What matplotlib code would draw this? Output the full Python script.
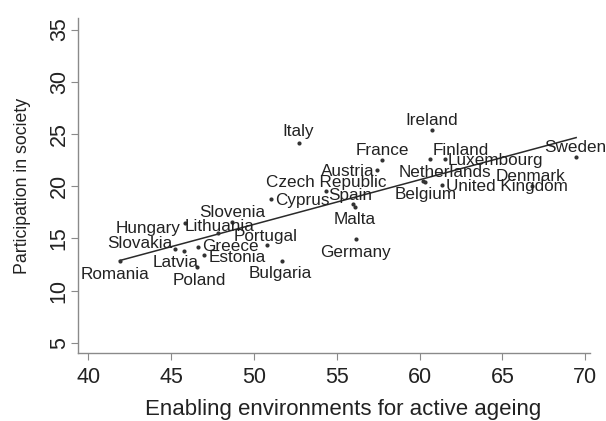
import numpy as np
import matplotlib
matplotlib.use("Agg")
import matplotlib.pyplot as plt

countries = ["Romania", "Slovakia", "Latvia", "Poland", "Hungary", "Lithuania",
             "Slovenia", "Greece", "Estonia", "Portugal", "Bulgaria", "Cyprus",
             "Czech Republic", "Italy", "Spain", "Malta", "Germany", "Austria",
             "France", "Ireland", "Finland", "Luxembourg", "Netherlands",
             "Belgium", "United Kingdom", "Denmark", "Sweden"]
enabling = [41.9, 45.25, 45.8, 46.6, 45.85, 47.85,
            48.7, 46.65, 47.0, 50.8, 51.7, 51.05,
            54.35, 52.75, 56.0, 56.1, 56.15, 57.45,
            57.75, 60.75, 60.65, 61.55, 60.2,
            60.3, 61.35, 66.8, 69.45]
participation = [12.85, 14.0, 13.8, 12.3, 16.5, 15.5,
                 16.6, 14.2, 13.4, 14.4, 12.85, 18.8,
                 19.55, 24.15, 18.3, 18.0, 14.95, 21.55,
                 22.5, 25.4, 22.6, 22.6, 20.5,
                 20.4, 20.1, 20.0, 22.8]

# label placement: (dx, dy) in points relative to the marker, horizontal alignment
label_pos = {
    "Romania": (-3, -10, "center"), "Slovakia": (-2, 4, "right"),
    "Latvia": (-6, -8, "center"), "Poland": (1, -10, "center"),
    "Hungary": (-3, -4, "right"), "Lithuania": (1, 5, "center"),
    "Slovenia": (0, 7, "center"), "Greece": (3, 0, "left"),
    "Estonia": (3, -2, "left"), "Portugal": (-1, 6, "center"),
    "Bulgaria": (-1, -9, "center"), "Cyprus": (3, -1, "left"),
    "Czech Republic": (0, 6, "center"), "Italy": (-1, 8, "center"),
    "Spain": (-2, 6, "center"), "Malta": (0, -9, "center"),
    "Germany": (0, -10, "center"), "Austria": (-2, -1, "right"),
    "France": (0, 7, "center"), "Ireland": (0, 7, "center"),
    "Finland": (2, 6, "left"), "Luxembourg": (2, -1, "left"),
    "Netherlands": (16, 6, "center"), "Belgium": (1, -9, "center"),
    "United Kingdom": (3, -1, "left"), "Denmark": (-1, 7, "center"),
    "Sweden": (-1, 7, "center"),
}

plt.rcParams["font.family"] = ["Liberation Sans", "DejaVu Sans"]
text_color = "#222222"
axis_color = "#8a8a8a"

fig = plt.figure(figsize=(6.06, 4.21), dpi=100)
ax = fig.add_axes([0.129, 0.162, 0.845, 0.795])

ax.scatter(enabling, participation, s=9, color="#333333", zorder=3, linewidths=0)

# linear fit across the observed range
slope, intercept = np.polyfit(enabling, participation, 1)
xs = np.array([min(enabling), max(enabling)])
ax.plot(xs, intercept + slope * xs, color="#2a2a2a", lw=1.1, zorder=2)

for name, x, y in zip(countries, enabling, participation):
    dx, dy, ha = label_pos[name]
    ax.annotate(name, (x, y), xytext=(dx, dy), textcoords="offset points",
                ha=ha, va="center", fontsize=12.3, color=text_color)

ax.set_xlim(39.4, 70.3)
ax.set_ylim(4.05, 36.1)
ax.set_xticks([40, 45, 50, 55, 60, 65, 70])
ax.set_yticks([5, 10, 15, 20, 25, 30, 35])
for lab in ax.get_yticklabels():
    lab.set_rotation(90)
    lab.set_va("center")
ax.tick_params(axis="both", direction="out", length=5, width=0.8,
               color=axis_color, labelcolor=text_color, labelsize=15.5)
ax.tick_params(axis="x", pad=5)
ax.tick_params(axis="y", pad=1)

for side in ["top", "right"]:
    ax.spines[side].set_visible(False)
for side in ["left", "bottom"]:
    ax.spines[side].set_color(axis_color)
    ax.spines[side].set_linewidth(1.0)

ax.set_xlabel("Enabling environments for active ageing", fontsize=16,
              color=text_color)
ax.xaxis.set_label_coords(0.518, -0.138)
ax.set_ylabel("Participation in society", fontsize=12.8, color=text_color,
              labelpad=13)

fig.savefig("out.png", dpi=100)
